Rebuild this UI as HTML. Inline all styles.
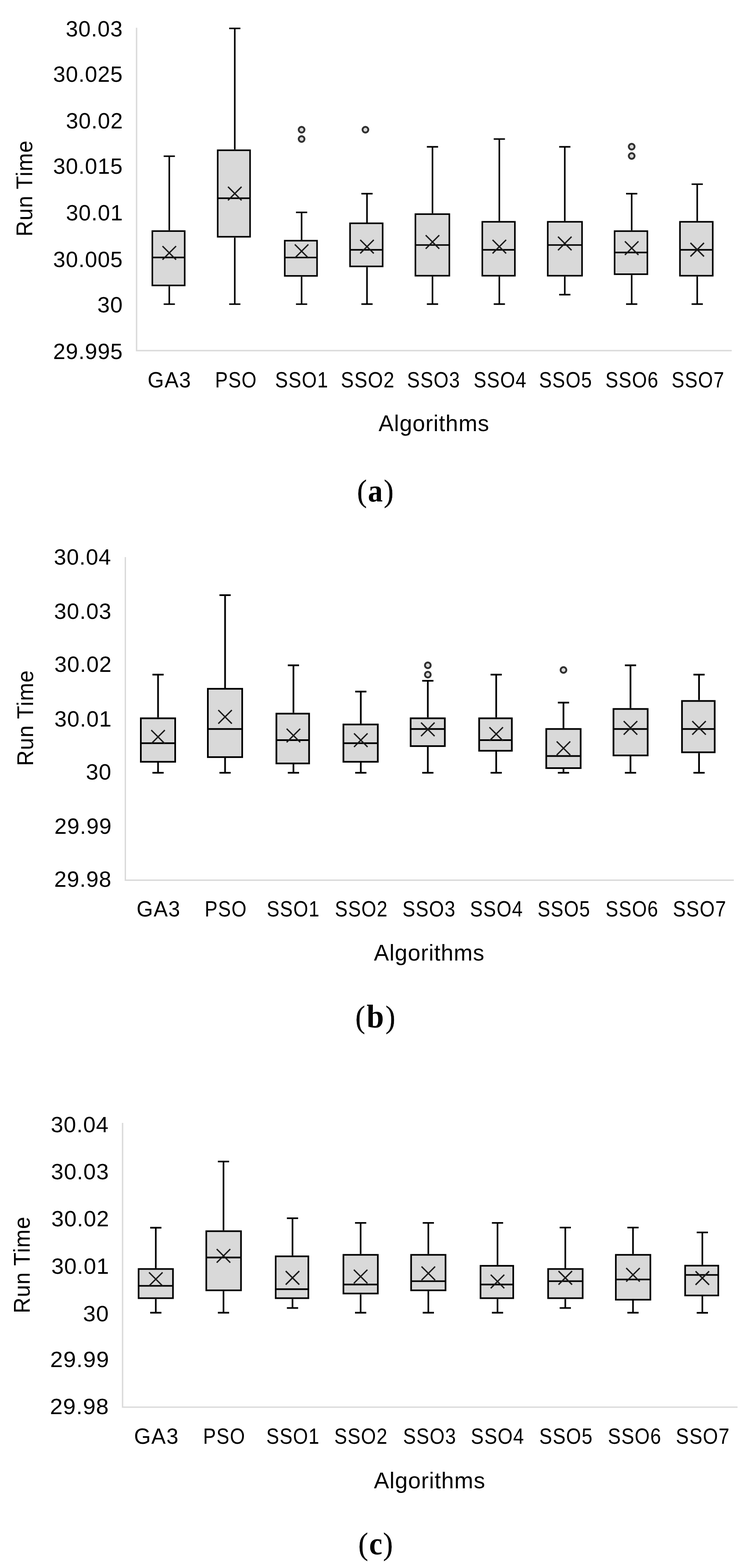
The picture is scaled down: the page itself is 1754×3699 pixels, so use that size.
<!DOCTYPE html>
<html lang="en"><head><meta charset="utf-8"><title>Run time box plots</title>
<style>
html,body{margin:0;padding:0;background:#fff}
body{width:1754px;height:3699px;overflow:hidden}
svg{display:block}
.t{font-family:"Liberation Sans",sans-serif;fill:#000}
.c{font-family:"Liberation Serif",serif;fill:#000;stroke:#000;stroke-width:0.4}
.cb{font-weight:bold;stroke:none}
.l{stroke:#000;fill:none}
.b{stroke:#000;fill:#d9d9d9}
.x{stroke:#1a1a1a;stroke-width:3.2;fill:none}
.o{stroke:#303030;stroke-width:4.4;fill:#d9d9d9}
.ax{stroke:#d9d9d9;stroke-width:3.2;fill:none}
</style></head><body>
<svg width="1754" height="3699" viewBox="0 0 1754 3699">
<defs><filter id="soft" x="0" y="0" width="100%" height="100%" filterUnits="userSpaceOnUse" color-interpolation-filters="sRGB"><feGaussianBlur stdDeviation="0.7"/></filter></defs>
<rect width="1754" height="3699" fill="#fff"/>
<g filter="url(#soft)">
<rect width="1754" height="3699" fill="#fff"/>
<g id="chart-a">
<path class="ax" d="M322 65.5 V827.2 H1725"/>
<text class="t" font-size="52" letter-spacing="1" transform="translate(154.95 86.2) scale(0.9985 1)">30.03</text>
<text class="t" font-size="52" letter-spacing="1" transform="translate(125.17 193.2) scale(0.9979 1)">30.025</text>
<text class="t" font-size="52" letter-spacing="1" transform="translate(155.49 303) scale(0.9983 1)">30.02</text>
<text class="t" font-size="52" letter-spacing="1" transform="translate(125.17 409.7) scale(0.9979 1)">30.015</text>
<text class="t" font-size="52" letter-spacing="1" transform="translate(155.49 520.2) scale(0.9983 1)">30.01</text>
<text class="t" font-size="52" letter-spacing="1" transform="translate(125.17 630.2) scale(0.9979 1)">30.005</text>
<text class="t" font-size="52" letter-spacing="1" transform="translate(229.39 736.8) scale(1.0114 1)">30</text>
<text class="t" font-size="52" letter-spacing="1" transform="translate(125.2 846.8) scale(0.9977 1)">29.995</text>
<text class="t" font-size="52" letter-spacing="1.5" transform="translate(348.08 913.7) scale(0.9506 1)">GA3</text>
<text class="t" font-size="52" letter-spacing="1.5" transform="translate(506.9 913.7) scale(0.8666 1)">PSO</text>
<text class="t" font-size="52" letter-spacing="1.5" transform="translate(648.39 913.7) scale(0.8720 1)">SSO1</text>
<text class="t" font-size="52" letter-spacing="1.5" transform="translate(803.57 913.7) scale(0.8793 1)">SSO2</text>
<text class="t" font-size="52" letter-spacing="1.5" transform="translate(959.49 913.7) scale(0.8688 1)">SSO3</text>
<text class="t" font-size="52" letter-spacing="1.5" transform="translate(1116.5 913.7) scale(0.8656 1)">SSO4</text>
<text class="t" font-size="52" letter-spacing="1.5" transform="translate(1270.69 913.7) scale(0.8688 1)">SSO5</text>
<text class="t" font-size="52" letter-spacing="1.5" transform="translate(1427.19 913.7) scale(0.8688 1)">SSO6</text>
<text class="t" font-size="52" letter-spacing="1.5" transform="translate(1583.2 913.7) scale(0.8648 1)">SSO7</text>
<text class="t" font-size="54" letter-spacing="1" transform="translate(892.6 1016.8) scale(0.9857 1)">Algorithms</text>
<text class="t" font-size="54" letter-spacing="1" transform="translate(75.8 558.11) rotate(-90) scale(0.9515 1)">Run Time</text>
<g stroke-width="3.7">
<path class="l" d="M399.1 368.5V543.3M385.85 368.5H412.35M399.1 675.2V717.5M385.85 717.5H412.35"/>
<rect class="b" x="359.15" y="545.15" width="76.3" height="128.2"/>
<path class="l" d="M359.15 607.4H435.45"/>
<path class="x" d="M383.1 580.6L415.1 612.6M383.1 612.6L415.1 580.6"/>
<path class="l" d="M553.5 67V352.6M540.25 67H566.75M553.5 560.4V717.5M540.25 717.5H566.75"/>
<rect class="b" x="513.25" y="354.45" width="76.3" height="204.1"/>
<path class="l" d="M513.25 467.6H589.55"/>
<path class="x" d="M537.5 440.6L569.5 472.6M537.5 472.6L569.5 440.6"/>
<path class="l" d="M711 501V565.9M697.75 501H724.25M711 652.7V717.5M697.75 717.5H724.25"/>
<rect class="b" x="671.35" y="567.75" width="76.1" height="83.1"/>
<path class="l" d="M671.35 607.5H747.45"/>
<path class="x" d="M695 576.6L727 608.6M695 608.6L727 576.6"/>
<circle class="o" cx="711" cy="306" r="6.8"/>
<circle class="o" cx="711" cy="328" r="6.8"/>
<path class="l" d="M865.2 456.8V524.9M851.95 456.8H878.45M865.2 630.3V717.3M851.95 717.3H878.45"/>
<rect class="b" x="825.25" y="526.75" width="76.9" height="101.7"/>
<path class="l" d="M825.25 589.4H902.15"/>
<path class="x" d="M849.2 565.9L881.2 597.9M849.2 597.9L881.2 565.9"/>
<circle class="o" cx="861.5" cy="306" r="6.8"/>
<path class="l" d="M1019.6 346.4V503.3M1006.35 346.4H1032.85M1019.6 652.3V717.3M1006.35 717.3H1032.85"/>
<rect class="b" x="979.35" y="505.15" width="80" height="145.3"/>
<path class="l" d="M979.35 578H1059.35"/>
<path class="x" d="M1003.6 554.9L1035.6 586.9M1003.6 586.9L1035.6 554.9"/>
<path class="l" d="M1177.2 328V521.4M1163.95 328H1190.45M1177.2 652.3V717.3M1163.95 717.3H1190.45"/>
<rect class="b" x="1137.05" y="523.25" width="76.8" height="127.2"/>
<path class="l" d="M1137.05 589.4H1213.85"/>
<path class="x" d="M1161.2 565.9L1193.2 597.9M1161.2 597.9L1193.2 565.9"/>
<path class="l" d="M1331.5 346.4V521.4M1318.25 346.4H1344.75M1331.5 652.3V695.1M1318.25 695.1H1344.75"/>
<rect class="b" x="1291.35" y="523.25" width="80.8" height="127.2"/>
<path class="l" d="M1291.35 578H1372.15"/>
<path class="x" d="M1315.5 558.4L1347.5 590.4M1315.5 590.4L1347.5 558.4"/>
<path class="l" d="M1489.2 456.9V543.4M1475.95 456.9H1502.45M1489.2 648.7V717.3M1475.95 717.3H1502.45"/>
<rect class="b" x="1448.95" y="545.25" width="77.3" height="101.6"/>
<path class="l" d="M1448.95 595.7H1526.25"/>
<path class="x" d="M1473.2 569.4L1505.2 601.4M1473.2 601.4L1505.2 569.4"/>
<circle class="o" cx="1489.2" cy="346" r="6.8"/>
<circle class="o" cx="1489.2" cy="368" r="6.8"/>
<path class="l" d="M1643.7 434.5V521.4M1630.45 434.5H1656.95M1643.7 652.3V717.3M1630.45 717.3H1656.95"/>
<rect class="b" x="1603.05" y="523.25" width="77.3" height="127.2"/>
<path class="l" d="M1603.05 589.4H1680.35"/>
<path class="x" d="M1627.7 573L1659.7 605M1627.7 605L1659.7 573"/>
</g>
<text class="c" y="1183.5" transform="scale(0.9300 1)"><tspan x="905.21" font-size="75">(</tspan><tspan class="cb" x="932.41" font-size="75.5">a</tspan><tspan x="972.95" font-size="75">)</tspan></text>
</g>
<g id="chart-b">
<path class="ax" d="M295.5 1314.2 V2076.3 H1730"/>
<text class="t" font-size="52" letter-spacing="1" transform="translate(127.08 1331.6) scale(1.0034 1)">30.04</text>
<text class="t" font-size="52" letter-spacing="1" transform="translate(127.61 1460.4) scale(1.0033 1)">30.03</text>
<text class="t" font-size="52" letter-spacing="1" transform="translate(128.15 1585.4) scale(1.0032 1)">30.02</text>
<text class="t" font-size="52" letter-spacing="1" transform="translate(128.15 1714) scale(1.0032 1)">30.01</text>
<text class="t" font-size="52" letter-spacing="1" transform="translate(202.41 1839) scale(1.0163 1)">30</text>
<text class="t" font-size="52" letter-spacing="1" transform="translate(128.19 1966.9) scale(1.0029 1)">29.99</text>
<text class="t" font-size="52" letter-spacing="1" transform="translate(127.65 2092.2) scale(1.0031 1)">29.98</text>
<text class="t" font-size="52" letter-spacing="1.5" transform="translate(322.12 2162.1) scale(0.9554 1)">GA3</text>
<text class="t" font-size="52" letter-spacing="1.5" transform="translate(482.57 2162.1) scale(0.8722 1)">PSO</text>
<text class="t" font-size="52" letter-spacing="1.5" transform="translate(628.8 2162.1) scale(0.8648 1)">SSO1</text>
<text class="t" font-size="52" letter-spacing="1.5" transform="translate(789.5 2162.1) scale(0.8648 1)">SSO2</text>
<text class="t" font-size="52" letter-spacing="1.5" transform="translate(948.69 2162.1) scale(0.8688 1)">SSO3</text>
<text class="t" font-size="52" letter-spacing="1.5" transform="translate(1108 2162.1) scale(0.8656 1)">SSO4</text>
<text class="t" font-size="52" letter-spacing="1.5" transform="translate(1267.21 2162.1) scale(0.8616 1)">SSO5</text>
<text class="t" font-size="52" letter-spacing="1.5" transform="translate(1427.55 2162.1) scale(0.8638 1)">SSO6</text>
<text class="t" font-size="52" letter-spacing="1.5" transform="translate(1586.13 2162.1) scale(0.8756 1)">SSO7</text>
<text class="t" font-size="54" letter-spacing="1" transform="translate(881.6 2265.8) scale(0.9849 1)">Algorithms</text>
<text class="t" font-size="54" letter-spacing="1" transform="translate(78 1807.09) rotate(-90) scale(0.9472 1)">Run Time</text>
<g stroke-width="4">
<path class="l" d="M372.6 1591.5V1692.5M359.35 1591.5H385.85M372.6 1799.1V1823M359.35 1823H385.85"/>
<rect class="b" x="332" y="1694.5" width="81" height="102.6"/>
<path class="l" d="M332 1753.2H413"/>
<path class="x" d="M356.6 1722.3L388.6 1754.3M356.6 1754.3L388.6 1722.3"/>
<path class="l" d="M530.6 1404V1622.9M517.35 1404H543.85M530.6 1788.1V1823M517.35 1823H543.85"/>
<rect class="b" x="490" y="1624.9" width="81" height="161.2"/>
<path class="l" d="M490 1719.8H571"/>
<path class="x" d="M514.6 1675.2L546.6 1707.2M514.6 1707.2L546.6 1675.2"/>
<path class="l" d="M691.8 1569.5V1681.5M678.55 1569.5H705.05M691.8 1803V1823M678.55 1823H705.05"/>
<rect class="b" x="651.6" y="1683.5" width="77.1" height="117.5"/>
<path class="l" d="M651.6 1746.1H728.7"/>
<path class="x" d="M675.8 1719.2L707.8 1751.2M675.8 1751.2L707.8 1719.2"/>
<path class="l" d="M850.6 1631.6V1707.1M837.35 1631.6H863.85M850.6 1799.1V1823M837.35 1823H863.85"/>
<rect class="b" x="809.6" y="1709.1" width="81.1" height="88"/>
<path class="l" d="M809.6 1753.2H890.7"/>
<path class="x" d="M834.6 1730.2L866.6 1762.2M834.6 1762.2L866.6 1730.2"/>
<path class="l" d="M1008.6 1606V1692.5M995.35 1606H1021.85M1008.6 1762.1V1823M995.35 1823H1021.85"/>
<rect class="b" x="968.1" y="1694.5" width="80.6" height="65.6"/>
<path class="l" d="M968.1 1719.8H1048.7"/>
<path class="x" d="M992.6 1704.6L1024.6 1736.6M992.6 1736.6L1024.6 1704.6"/>
<circle class="o" cx="1008.6" cy="1569.5" r="6.8"/>
<circle class="o" cx="1008.6" cy="1591.5" r="6.8"/>
<path class="l" d="M1169.8 1591.5V1692.5M1156.55 1591.5H1183.05M1169.8 1773.1V1823M1156.55 1823H1183.05"/>
<rect class="b" x="1129.6" y="1694.5" width="77.1" height="76.6"/>
<path class="l" d="M1129.6 1746.1H1206.7"/>
<path class="x" d="M1153.8 1715.6L1185.8 1747.6M1153.8 1747.6L1185.8 1715.6"/>
<path class="l" d="M1328.4 1657.5V1717.7M1315.15 1657.5H1341.65M1328.4 1814V1823M1315.15 1823H1341.65"/>
<rect class="b" x="1287.8" y="1719.7" width="81.1" height="92.3"/>
<path class="l" d="M1287.8 1783.4H1368.9"/>
<path class="x" d="M1312.4 1749.1L1344.4 1781.1M1312.4 1781.1L1344.4 1749.1"/>
<circle class="o" cx="1328.4" cy="1580.5" r="6.8"/>
<path class="l" d="M1486.4 1569.5V1670.5M1473.15 1569.5H1499.65M1486.4 1784.1V1823M1473.15 1823H1499.65"/>
<rect class="b" x="1446.3" y="1672.5" width="80.6" height="109.6"/>
<path class="l" d="M1446.3 1719.8H1526.9"/>
<path class="x" d="M1470.4 1701.1L1502.4 1733.1M1470.4 1733.1L1502.4 1701.1"/>
<path class="l" d="M1648 1591.5V1651.6M1634.75 1591.5H1661.25M1648 1776.7V1823M1634.75 1823H1661.25"/>
<rect class="b" x="1607.8" y="1653.6" width="77.1" height="121.1"/>
<path class="l" d="M1607.8 1719.8H1684.9"/>
<path class="x" d="M1632 1701.1L1664 1733.1M1632 1733.1L1664 1701.1"/>
</g>
<text class="c" y="2424.5" transform="scale(0.9300 1)"><tspan x="900.75" font-size="75">(</tspan><tspan class="cb" x="929.33" font-size="79">b</tspan><tspan x="977.14" font-size="75">)</tspan></text>
</g>
<g id="chart-c">
<path class="ax" d="M289 2648.9 V3319.5 H1738.7"/>
<text class="t" font-size="52" letter-spacing="1" transform="translate(119.79 2670.7) scale(1.0131 1)">30.04</text>
<text class="t" font-size="52" letter-spacing="1" transform="translate(120.33 2782) scale(1.0130 1)">30.03</text>
<text class="t" font-size="52" letter-spacing="1" transform="translate(120.88 2893.3) scale(1.0129 1)">30.02</text>
<text class="t" font-size="52" letter-spacing="1" transform="translate(120.88 3004.6) scale(1.0129 1)">30.01</text>
<text class="t" font-size="52" letter-spacing="1" transform="translate(195.85 3116.7) scale(1.0261 1)">30</text>
<text class="t" font-size="52" letter-spacing="1" transform="translate(118.24 3225) scale(1.0329 1)">29.99</text>
<text class="t" font-size="52" letter-spacing="1" transform="translate(117.69 3335.5) scale(1.0330 1)">29.98</text>
<text class="t" font-size="52" letter-spacing="1.5" transform="translate(315.97 3406.1) scale(0.9749 1)">GA3</text>
<text class="t" font-size="52" letter-spacing="1.5" transform="translate(478.77 3406.1) scale(0.8722 1)">PSO</text>
<text class="t" font-size="52" letter-spacing="1.5" transform="translate(627.69 3406.1) scale(0.8720 1)">SSO1</text>
<text class="t" font-size="52" letter-spacing="1.5" transform="translate(787.99 3406.1) scale(0.8720 1)">SSO2</text>
<text class="t" font-size="52" letter-spacing="1.5" transform="translate(950.19 3406.1) scale(0.8688 1)">SSO3</text>
<text class="t" font-size="52" letter-spacing="1.5" transform="translate(1110.08 3406.1) scale(0.8727 1)">SSO4</text>
<text class="t" font-size="52" letter-spacing="1.5" transform="translate(1271.28 3406.1) scale(0.8745 1)">SSO5</text>
<text class="t" font-size="52" letter-spacing="1.5" transform="translate(1432.98 3406.1) scale(0.8760 1)">SSO6</text>
<text class="t" font-size="52" letter-spacing="1.5" transform="translate(1593.37 3406.1) scale(0.8807 1)">SSO7</text>
<text class="t" font-size="54" letter-spacing="1" transform="translate(881.6 3510.8) scale(0.9922 1)">Algorithms</text>
<text class="t" font-size="54" letter-spacing="1" transform="translate(69.9 3098.13) rotate(-90) scale(0.9562 1)">Run Time</text>
<g stroke-width="3.85">
<path class="l" d="M367.3 2896.2V2991.7M354.05 2896.2H380.55M367.3 3064.4V3096.7M354.05 3096.7H380.55"/>
<rect class="b" x="326.73" y="2993.62" width="81.05" height="68.85"/>
<path class="l" d="M326.73 3033.4H407.77"/>
<path class="x" d="M351.3 3001.6L383.3 3033.6M351.3 3033.6L383.3 3001.6"/>
<path class="l" d="M526.9 2740.1V2902.5M513.65 2740.1H540.15M526.9 3045.9V3096.7M513.65 3096.7H540.15"/>
<rect class="b" x="486.32" y="2904.43" width="81.85" height="139.55"/>
<path class="l" d="M486.32 2966.5H568.18"/>
<path class="x" d="M510.9 2946.6L542.9 2978.6M510.9 2978.6L542.9 2946.6"/>
<path class="l" d="M689.6 2873.8V2961.8M676.35 2873.8H702.85M689.6 3064.4V3085.6M676.35 3085.6H702.85"/>
<rect class="b" x="649.92" y="2963.73" width="77.05" height="98.75"/>
<path class="l" d="M649.92 3041.2H726.98"/>
<path class="x" d="M673.6 2998.5L705.6 3030.5M673.6 3030.5L705.6 2998.5"/>
<path class="l" d="M850.2 2884.8V2958.3M836.95 2884.8H863.45M850.2 3053.4V3096.7M836.95 3096.7H863.45"/>
<rect class="b" x="809.62" y="2960.23" width="81.15" height="91.25"/>
<path class="l" d="M809.62 3030.2H890.78"/>
<path class="x" d="M834.2 2995.3L866.2 3027.3M834.2 3027.3L866.2 2995.3"/>
<path class="l" d="M1009.8 2884.8V2958.3M996.55 2884.8H1023.05M1009.8 3045.9V3096.7M996.55 3096.7H1023.05"/>
<rect class="b" x="969.22" y="2960.23" width="81.15" height="83.75"/>
<path class="l" d="M969.22 3022.4H1050.38"/>
<path class="x" d="M993.8 2987.9L1025.8 3019.9M993.8 3019.9L1025.8 2987.9"/>
<path class="l" d="M1172.9 2884.8V2984.2M1159.65 2884.8H1186.15M1172.9 3064.4V3096.7M1159.65 3096.7H1186.15"/>
<rect class="b" x="1132.83" y="2986.12" width="77.15" height="76.35"/>
<path class="l" d="M1132.83 3030.2H1209.98"/>
<path class="x" d="M1156.9 3007.1L1188.9 3039.1M1156.9 3039.1L1188.9 3007.1"/>
<path class="l" d="M1332.7 2895.8V2991.7M1319.45 2895.8H1345.95M1332.7 3064.4V3085.6M1319.45 3085.6H1345.95"/>
<rect class="b" x="1292.22" y="2993.62" width="81.45" height="68.85"/>
<path class="l" d="M1292.22 3022.4H1373.67"/>
<path class="x" d="M1316.7 2998.5L1348.7 3030.5M1316.7 3030.5L1348.7 2998.5"/>
<path class="l" d="M1492.3 2895.8V2958.3M1479.05 2895.8H1505.55M1492.3 3068V3096.7M1479.05 3096.7H1505.55"/>
<rect class="b" x="1451.83" y="2960.23" width="81.45" height="105.85"/>
<path class="l" d="M1451.83 3018.4H1533.28"/>
<path class="x" d="M1476.3 2991.4L1508.3 3023.4M1476.3 3023.4L1508.3 2991.4"/>
<path class="l" d="M1655.8 2907.4V2983.8M1642.55 2907.4H1669.05M1655.8 3058V3097M1642.55 3097H1669.05"/>
<rect class="b" x="1615.22" y="2985.73" width="78.15" height="70.35"/>
<path class="l" d="M1615.22 3007.6H1693.38"/>
<path class="x" d="M1639.8 2999L1671.8 3031M1639.8 3031L1671.8 2999"/>
</g>
<text class="c" y="3666.8" transform="scale(0.9300 1)"><tspan x="908.38" font-size="75">(</tspan><tspan class="cb" x="935.86" font-size="75.5">c</tspan><tspan x="970.85" font-size="75">)</tspan></text>
</g>
</g>
</svg></body></html>
